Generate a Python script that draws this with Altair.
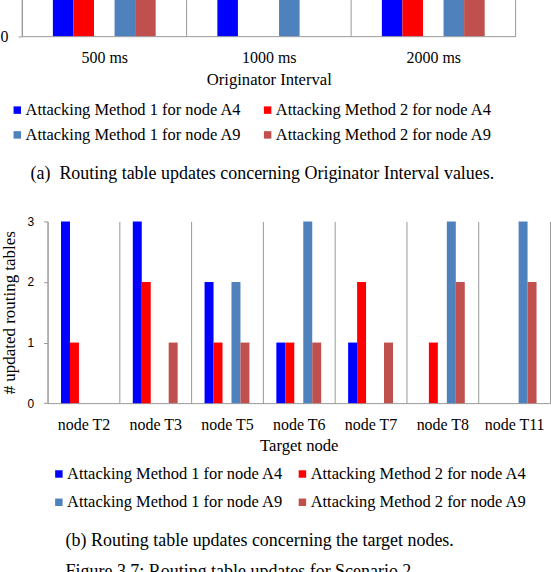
import altair as alt
import pandas as pd

# ---------------- data ----------------
series = [
    "Attacking Method 1 for node A4",
    "Attacking Method 2 for node A4",
    "Attacking Method 1 for node A9",
    "Attacking Method 2 for node A9",
]
colors = ["#0000FF", "#FF0000", "#4F81BD", "#C0504D"]

# (a) originator interval chart (only its bottom part is visible)
intervals = ["500 ms", "1000 ms", "2000 ms"]
top_a4_m1 = [3, 3, 3]
top_a4_m2 = [2, 0, 2]
top_a9_m1 = [3, 3, 3]
top_a9_m2 = [2, 0, 2]

# (b) target node chart
targets = ["node T2", "node T3", "node T5", "node T6", "node T7", "node T8", "node T11"]
bot_a4_m1 = [3, 3, 2, 1, 1, 0, 0]
bot_a4_m2 = [1, 2, 1, 1, 2, 1, 0]
bot_a9_m1 = [0, 0, 2, 3, 0, 3, 3]
bot_a9_m2 = [0, 1, 1, 1, 1, 2, 2]
y_ticks = [0, 1, 2, 3]

caption_a = "(a)\u00a0 Routing table updates concerning Originator Interval values."
caption_b = "(b) Routing table updates concerning the target nodes."
figure_caption = "\u2009Figure 3.7: Routing table updates for Scenario 2"


def long_df(cat_name, cats, cols):
    rows = []
    for i, c in enumerate(cats):
        for s, vals in zip(series, cols):
            rows.append({cat_name: c, "series": s, "value": vals[i]})
    return pd.DataFrame(rows)


top_df = long_df("interval", intervals, [top_a4_m1, top_a4_m2, top_a9_m1, top_a9_m2])
bot_df = long_df("target", targets, [bot_a4_m1, bot_a4_m2, bot_a9_m1, bot_a9_m2])

# slot order inside each category: blank, A4 m1, A4 m2, blank, A9 m1, A9 m2, blank
offset_domain = ["pad1", series[0], series[1], "gap", series[2], series[3], "pad2"]

SERIF = "Liberation Serif"
SANS = "Liberation Sans"
GRAY = "#9a9a9a"


def legend(x, y, colpad, rowpad):
    return alt.Legend(
        title=None, orient="none", legendX=x, legendY=y, columns=2,
        direction="horizontal", symbolType="square", symbolSize=56,
        symbolStrokeWidth=0, labelFont=SERIF, labelFontSize=16.5,
        labelColor="black", labelOffset=0, labelLimit=400,
        columnPadding=colpad, rowPadding=rowpad,
    )


def x_axis(title):
    return alt.Axis(
        title=title, labelAngle=0, ticks=False, grid=True, tickBand="extent",
        gridColor=GRAY, gridOpacity=1, gridWidth=1, domainColor=GRAY,
        domainWidth=1, labelFont=SERIF, labelFontSize=16, labelColor="black",
        labelPadding=13, titleFont=SERIF, titleFontSize=16.7,
        titleFontWeight="normal", titleColor="black", titlePadding=6,
    )


def offset_scale():
    return alt.Scale(domain=offset_domain, paddingInner=0, paddingOuter=0.5)


# ---------------- top chart ----------------
TOP_SHIFT = 25.6
top = alt.Chart(top_df).mark_bar().encode(
    x=alt.X("interval:N", sort=intervals,
            scale=alt.Scale(domain=intervals, paddingInner=0, paddingOuter=0,
                            range=[-TOP_SHIFT, 469.4]),
            axis=x_axis("Originator Interval")),
    xOffset=alt.XOffset("series:N", scale=offset_scale()),
    y=alt.Y("value:Q", scale=alt.Scale(domain=[0, 0.6], clamp=True),
            axis=alt.Axis(values=[0], format="d", title=None, offset=TOP_SHIFT,
                          grid=False, domainColor=GRAY, tickColor=GRAY, tickSize=4,
                          labelFont=SERIF, labelFontSize=16, labelColor="black",
                          labelPadding=10)),
    color=alt.Color("series:N", scale=alt.Scale(domain=series, range=colors),
                    legend=legend(-38.6, 102.5, 17.1, 8)),
).properties(
    width=469.4, height=36.7,
    title=alt.TitleParams(text=caption_a, orient="bottom", anchor="start",
                          frame="bounds", dx=30.5, offset=21.3, font=SERIF,
                          fontSize=18, fontWeight="normal", color="black"),
)

# ---------------- bottom chart ----------------
bottom = alt.Chart(bot_df).mark_bar().encode(
    x=alt.X("target:N", sort=targets,
            scale=alt.Scale(domain=targets, paddingInner=0, paddingOuter=0),
            axis=x_axis("Target node")),
    xOffset=alt.XOffset("series:N", scale=offset_scale()),
    y=alt.Y("value:Q", scale=alt.Scale(domain=[0, 3]),
            axis=alt.Axis(values=y_ticks, format="d", title="# updated routing tables",
                          grid=False, domainColor=GRAY, tickColor=GRAY, tickSize=4,
                          labelFont=SANS, labelFontSize=12, labelColor="black",
                          labelPadding=10, titleFont=SERIF, titleFontSize=17,
                          titleFontWeight="normal", titleColor="black", titlePadding=8)),
    color=alt.Color("series:N", scale=alt.Scale(domain=series, range=colors),
                    legend=legend(3.1, 245, 10.3, 11.5)),
).properties(
    width=504, height=182.3,
    title=alt.TitleParams(text=caption_b, subtitle=figure_caption, orient="bottom",
                          anchor="start", frame="group", dx=18.1, offset=21,
                          font=SERIF, fontSize=18, fontWeight="normal", color="black",
                          subtitleFont=SERIF, subtitleFontSize=18, subtitleColor="black",
                          subtitlePadding=13),
)

chart = alt.vconcat(top, bottom, spacing=30.5).resolve_scale(
    x="independent", y="independent", color="independent", xOffset="independent"
).properties(
    padding={"left": -1.3, "top": -2.3, "right": 0, "bottom": -8}
).configure_view(stroke="transparent")

chart.save("out.html", embed_options={"renderer": "svg", "actions": False})
